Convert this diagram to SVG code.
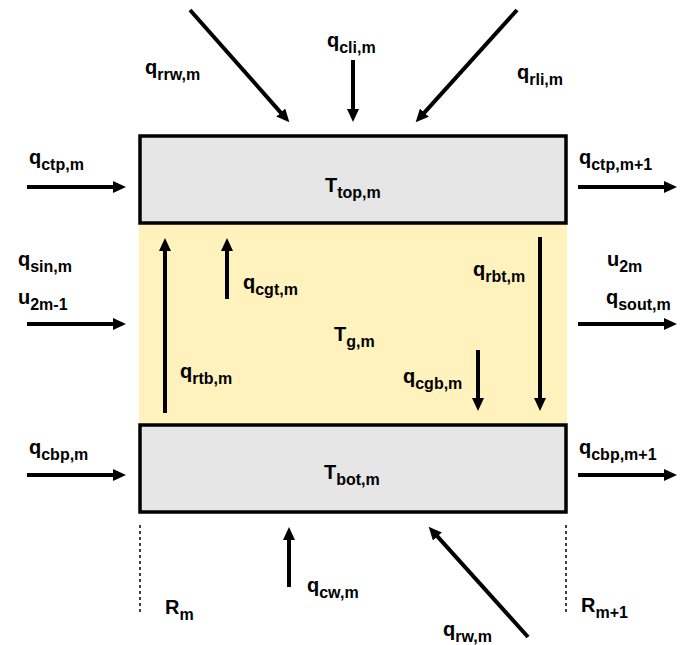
<svg xmlns="http://www.w3.org/2000/svg" width="695" height="645" viewBox="0 0 695 645">
<defs>
<marker id="ah" markerUnits="userSpaceOnUse" markerWidth="14" markerHeight="12" refX="1" refY="6" orient="auto">
<path d="M0,0 L13,6 L0,12 z" fill="#000"/>
</marker>
<style>
.t{font-family:"Liberation Sans",Arial,sans-serif;font-weight:bold;font-size:20px;fill:#000}
.s{font-size:16px}
.a{stroke:#000;stroke-width:4;fill:none;marker-end:url(#ah)}
.box{fill:#e6e6e6;stroke:#000;stroke-width:3.5}
.d{stroke:#000;stroke-width:1.5;stroke-dasharray:3,3}
</style>
</defs>
<rect x="0" y="0" width="695" height="645" fill="#fff"/>
<g id="gas">
<rect x="139" y="223" width="428" height="200" fill="#fff2bd"/>
<text class="t" x="334" y="341">T<tspan class="s" dy="6">g,m</tspan></text>
</g>
<g id="top">
<rect class="box" x="140" y="136" width="426" height="87"/>
<text class="t" x="325" y="192">T<tspan class="s" dy="6">top,m</tspan></text>
</g>
<g id="bot">
<rect class="box" x="140" y="425" width="426" height="87"/>
<text class="t" x="324" y="479">T<tspan class="s" dy="6">bot,m</tspan></text>
</g>
<g id="connectors">
<line class="a" x1="190" y1="10" x2="281.4" y2="113.3"/>
<line class="a" x1="353" y1="60" x2="353" y2="110"/>
<line class="a" x1="517" y1="10" x2="423.7" y2="113.4"/>
<line class="a" x1="27" y1="187" x2="114" y2="187"/>
<line class="a" x1="27" y1="324" x2="114" y2="324"/>
<line class="a" x1="27" y1="475" x2="114" y2="475"/>
<line class="a" x1="578" y1="187" x2="665" y2="187"/>
<line class="a" x1="578" y1="324" x2="665" y2="324"/>
<line class="a" x1="578" y1="475" x2="665" y2="475"/>
<line class="a" x1="165" y1="413" x2="165" y2="250"/>
<line class="a" x1="227" y1="299" x2="227" y2="250"/>
<line class="a" x1="540" y1="237" x2="540" y2="399"/>
<line class="a" x1="478" y1="350" x2="478" y2="399"/>
<line class="a" x1="289" y1="587" x2="289" y2="539"/>
<line class="a" x1="528" y1="637" x2="436.7" y2="535.7"/>
<line class="d" x1="140" y1="525" x2="140" y2="615"/>
<line class="d" x1="566" y1="525" x2="566" y2="615"/>
</g>
<g id="labels">
<text class="t" x="145" y="74">q<tspan class="s" dy="6">rrw,m</tspan></text>
<text class="t" x="327" y="47">q<tspan class="s" dy="6">cli,m</tspan></text>
<text class="t" x="517" y="79">q<tspan class="s" dy="6">rli,m</tspan></text>
<text class="t" x="29" y="164">q<tspan class="s" dy="6">ctp,m</tspan></text>
<text class="t" x="18" y="266">q<tspan class="s" dy="6">sin,m</tspan></text>
<text class="t" x="18" y="304">u<tspan class="s" dy="6">2m-1</tspan></text>
<text class="t" x="29" y="454">q<tspan class="s" dy="6">cbp,m</tspan></text>
<text class="t" x="579" y="164">q<tspan class="s" dy="6">ctp,m+1</tspan></text>
<text class="t" x="607" y="266">u<tspan class="s" dy="6">2m</tspan></text>
<text class="t" x="606" y="304">q<tspan class="s" dy="6">sout,m</tspan></text>
<text class="t" x="579" y="454">q<tspan class="s" dy="6">cbp,m+1</tspan></text>
<text class="t" x="180" y="378">q<tspan class="s" dy="6">rtb,m</tspan></text>
<text class="t" x="243" y="289">q<tspan class="s" dy="6">cgt,m</tspan></text>
<text class="t" x="473" y="276">q<tspan class="s" dy="6">rbt,m</tspan></text>
<text class="t" x="403" y="383">q<tspan class="s" dy="6">cgb,m</tspan></text>
<text class="t" x="307" y="592">q<tspan class="s" dy="6">cw,m</tspan></text>
<text class="t" x="443" y="636">q<tspan class="s" dy="6">rw,m</tspan></text>
<text class="t" x="165" y="614">R<tspan class="s" dy="6">m</tspan></text>
<text class="t" x="581" y="612">R<tspan class="s" dy="6">m+1</tspan></text>
</g>
</svg>
